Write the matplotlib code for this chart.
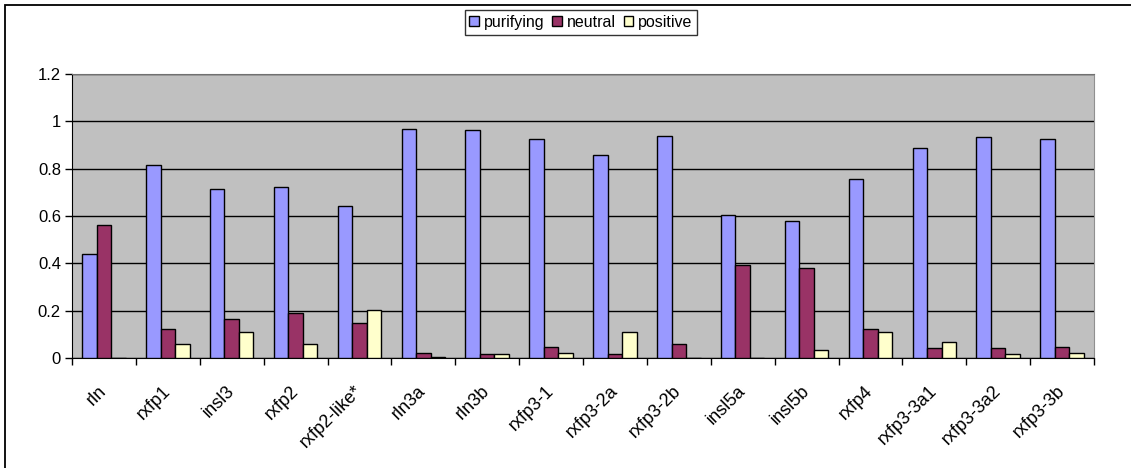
import numpy as np
import matplotlib.pyplot as plt
import matplotlib.transforms as mtransforms
from matplotlib.patches import Rectangle

plt.rcParams['font.family'] = ['Liberation Sans', 'DejaVu Sans']

genes = ['rln', 'rxfp1', 'insl3', 'rxfp2', 'rxfp2-like*', 'rln3a', 'rln3b', 'rxfp3-1',
         'rxfp3-2a', 'rxfp3-2b', 'insl5a', 'insl5b', 'rxfp4', 'rxfp3-3a1', 'rxfp3-3a2', 'rxfp3-3b']
purifying = [0.438, 0.815, 0.716, 0.722, 0.642, 0.969, 0.963, 0.926,
             0.858, 0.938, 0.604, 0.579, 0.758, 0.889, 0.933, 0.926]
neutral = [0.562, 0.122, 0.166, 0.190, 0.146, 0.022, 0.015, 0.048,
           0.015, 0.060, 0.395, 0.381, 0.122, 0.042, 0.042, 0.048]
positive = [0.0, 0.060, 0.110, 0.060, 0.204, 0.006, 0.015, 0.022,
            0.110, 0.0, 0.0, 0.035, 0.110, 0.066, 0.017, 0.022]

W, H = 1131, 468
fig = plt.figure(figsize=(W / 100, H / 100), dpi=100)
# chart area border (open to the right and bottom)
fig.patches.append(Rectangle((5 / W, -0.1), 1.2, 1 - 5 / H + 0.1, transform=fig.transFigure,
                             fill=False, edgecolor='black', lw=1.3))

ax = fig.add_axes([72 / W, 1 - 358 / H, (1094 - 72) / W, (358 - 74) / H])
ax.set_facecolor('#C0C0C0')

x = np.arange(len(genes))
bw = 0.227
series = [(purifying, '#9999FF', 'purifying'),
          (neutral, '#993366', 'neutral'),
          (positive, '#FFFFCC', 'positive')]
for i, (vals, col, name) in enumerate(series):
    ax.bar(x + (i - 1) * bw, vals, bw, color=col, edgecolor='black', lw=1.0,
           label=name, zorder=3)

ax.set_xlim(-0.5, len(genes) - 0.5)
ax.set_ylim(0, 1.2)
ax.set_yticks(np.arange(0, 1.21, 0.2))
ax.set_yticklabels(['0', '0.2', '0.4', '0.6', '0.8', '1', '1.2'], fontsize=12)
ax.yaxis.grid(True, color='black', lw=1, zorder=0)
ax.set_axisbelow(True)

ax.set_xticks(np.arange(-0.5, len(genes), 1.0))
ax.set_xticklabels([])
ax.set_xticks(x, minor=True)
ax.set_xticklabels(genes, minor=True, rotation=45, ha='right', va='center',
                   rotation_mode='anchor', fontsize=13)
# nudge the slanted names a little to the left
shift = mtransforms.ScaledTranslation(-5 / 100, 0, fig.dpi_scale_trans)
for lab in ax.get_xticklabels(minor=True):
    lab.set_transform(lab.get_transform() + shift)
ax.tick_params(axis='x', which='minor', length=0, pad=22)
ax.tick_params(axis='x', which='major', length=5, direction='out', width=1)
ax.tick_params(axis='y', length=5, direction='out', width=1, pad=3)

ax.spines['left'].set_color('black')
ax.spines['bottom'].set_color('black')
ax.spines['top'].set_color('#707070')
ax.spines['right'].set_color('#909090')

leg = fig.legend(loc='upper center', bbox_to_anchor=(581 / W, 1 - 10 / H), ncol=3,
                 fontsize=11.5, frameon=True, fancybox=False, edgecolor='black',
                 handlelength=0.6, handleheight=0.6, handletextpad=0.3,
                 columnspacing=0.5, borderpad=0.3, borderaxespad=0)
leg.get_frame().set_linewidth(1)

fig.savefig('out.png', dpi=100)
